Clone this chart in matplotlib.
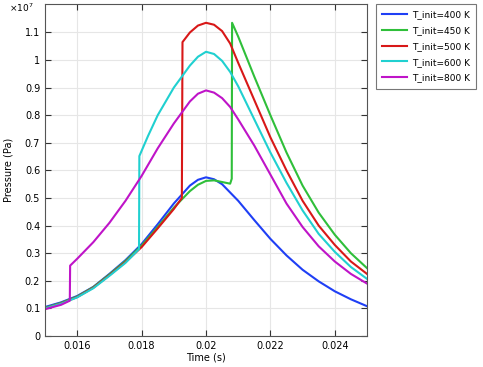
import matplotlib
matplotlib.use('Agg')
import matplotlib.pyplot as plt
import matplotlib.ticker as ticker

# -------------------------------
# Data (pressure in units of 1e7 Pa)
# -------------------------------
t_400 = [0.015, 0.0155, 0.016, 0.0165, 0.017, 0.0175, 0.018, 0.0185, 0.019, 0.0195,
         0.01975, 0.020, 0.02025, 0.0205, 0.021, 0.0215, 0.022, 0.0225, 0.023, 0.0235,
         0.024, 0.0245, 0.025]
p_400 = [0.105, 0.122, 0.145, 0.178, 0.225, 0.275, 0.333, 0.405, 0.48, 0.545,
         0.566, 0.575, 0.568, 0.55, 0.49, 0.42, 0.352, 0.292, 0.24, 0.198,
         0.162, 0.133, 0.108]

t_450 = [0.015, 0.0155, 0.016, 0.0165, 0.017, 0.0175, 0.018, 0.0185, 0.019, 0.0195,
         0.01975, 0.020, 0.02025, 0.0205, 0.02075, 0.0208, 0.02081, 0.021, 0.0215,
         0.022, 0.0225, 0.023, 0.0235, 0.024, 0.0245, 0.025]
p_450 = [0.102, 0.12, 0.143, 0.177, 0.223, 0.272, 0.328, 0.395, 0.465, 0.525,
         0.548, 0.562, 0.564, 0.558, 0.552, 0.57, 1.135, 1.085, 0.94,
         0.80, 0.665, 0.545, 0.447, 0.367, 0.30, 0.246]

t_500 = [0.015, 0.0155, 0.016, 0.0165, 0.017, 0.0175, 0.018, 0.0185, 0.019, 0.01925,
         0.01927, 0.0195, 0.01975, 0.020, 0.02025, 0.0205, 0.02075, 0.021, 0.0215,
         0.022, 0.0225, 0.023, 0.0235, 0.024, 0.0245, 0.025]
p_500 = [0.100, 0.118, 0.141, 0.175, 0.22, 0.268, 0.322, 0.39, 0.46, 0.50,
         1.065, 1.10, 1.125, 1.135, 1.128, 1.105, 1.06, 0.99, 0.855,
         0.72, 0.60, 0.49, 0.40, 0.33, 0.27, 0.225]

t_600 = [0.015, 0.0155, 0.016, 0.0165, 0.017, 0.0175, 0.01792, 0.01793, 0.0182, 0.0185,
         0.019, 0.0195, 0.01975, 0.020, 0.02025, 0.0205, 0.02075, 0.021, 0.0215,
         0.022, 0.0225, 0.023, 0.0235, 0.024, 0.0245, 0.025]
p_600 = [0.100, 0.117, 0.14, 0.173, 0.218, 0.265, 0.315, 0.652, 0.725, 0.80,
         0.90, 0.98, 1.012, 1.03, 1.022, 0.997, 0.957, 0.905, 0.785,
         0.665, 0.555, 0.455, 0.37, 0.305, 0.25, 0.207]

t_800 = [0.015, 0.0155, 0.01577, 0.01578, 0.016, 0.0165, 0.017, 0.0175, 0.018, 0.0185,
         0.019, 0.0195, 0.01975, 0.020, 0.02025, 0.0205, 0.02075, 0.021, 0.0215,
         0.022, 0.0225, 0.023, 0.0235, 0.024, 0.0245, 0.025]
p_800 = [0.097, 0.113, 0.128, 0.255, 0.28, 0.34, 0.41, 0.49, 0.58, 0.68,
         0.77, 0.85, 0.878, 0.89, 0.882, 0.862, 0.83, 0.785, 0.69,
         0.585, 0.48, 0.395, 0.325, 0.27, 0.225, 0.19]

labels = ['T_init=400 K', 'T_init=450 K', 'T_init=500 K', 'T_init=600 K', 'T_init=800 K']
colors = ['#1f3ff5', '#2fbf3a', '#d81818', '#20d0d0', '#bf14c8']
y_ticks = [0, 0.1, 0.2, 0.3, 0.4, 0.5, 0.6, 0.7, 0.8, 0.9, 1, 1.1]

series = [(t_400, p_400), (t_450, p_450), (t_500, p_500), (t_600, p_600), (t_800, p_800)]

# -------------------------------
# Plot
# -------------------------------
fig = plt.figure(figsize=(4.83, 3.67), dpi=100)
ax = fig.add_axes([0.0932, 0.0845, 0.6666, 0.9045])

for (t, p), lab, col in zip(series, labels, colors):
    ax.plot(t, [v * 1e7 for v in p], color=col, lw=1.5, label=lab)

ax.set_xlim(0.015, 0.025)
ax.set_ylim(0, 1.203e7)
ax.xaxis.set_major_locator(ticker.MultipleLocator(0.002))
ax.yaxis.set_major_locator(ticker.FixedLocator([v * 1e7 for v in y_ticks]))
ax.xaxis.set_major_formatter(ticker.FuncFormatter(lambda x, pos: f'{x:g}'))
ax.yaxis.set_major_formatter(ticker.FuncFormatter(lambda y, pos: f'{round(y / 1e7, 2):g}'))
ax.tick_params(direction='in', top=True, right=True, labelsize=7, length=4, color='#333333')
ax.grid(True, color='#e6e6e6', lw=0.8)
ax.set_axisbelow(True)
for sp in ax.spines.values():
    sp.set_color('#555555')

ax.set_xlabel('Time (s)', fontsize=7, labelpad=1)
ax.set_ylabel('Pressure (Pa)', fontsize=7, labelpad=8)
fig.text(0.018, 0.978, r'$\times 10^{7}$', fontsize=6.5, va='center')

leg = fig.legend(*ax.get_legend_handles_labels(), loc='upper right',
                 bbox_to_anchor=(476 / 483, 1 - 4 / 367), fontsize=6.5, frameon=True,
                 fancybox=False, edgecolor='#555555', handlelength=2.8, handletextpad=0.5,
                 borderpad=0.7, labelspacing=0.75, borderaxespad=0)
leg.get_frame().set_linewidth(0.8)

fig.savefig('out.png', dpi=100)
